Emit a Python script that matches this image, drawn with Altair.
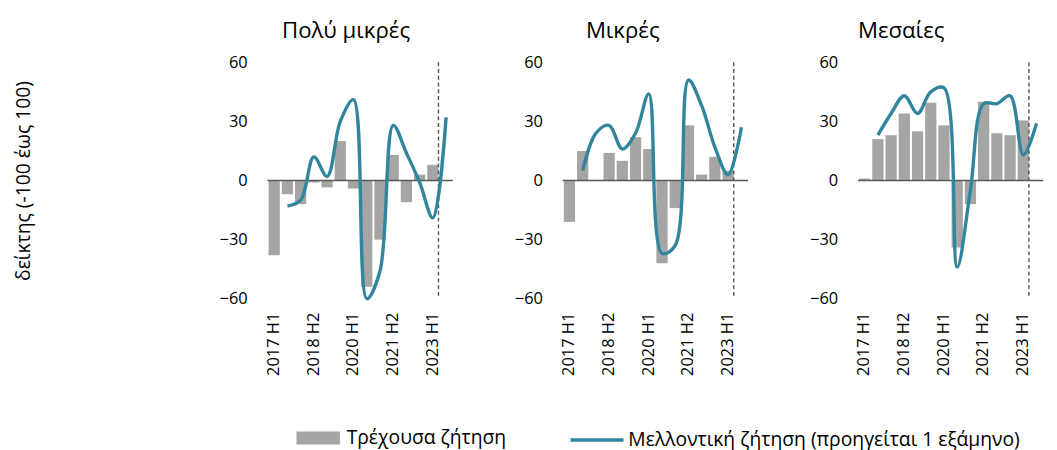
import altair as alt
import pandas as pd

periods = ["2017 H1", "2017 H2", "2018 H1", "2018 H2", "2019 H1", "2019 H2", "2020 H1",
           "2020 H2", "2021 H1", "2021 H2", "2022 H1", "2022 H2", "2023 H1", "2023 H2"]
label_periods = ["2017 H1", "2018 H2", "2020 H1", "2021 H2", "2023 H1"]

panel_names = ["Πολύ μικρές", "Μικρές", "Μεσαίες"]
title_dx = [15, 24, 0]

# Τρέχουσα ζήτηση (bars)
current_vm = [-38, -7, -12, -1, -3.5, 20, -4, -54, -30, 13, -11, 3, 8, None]
current_m = [-21, 15, 0, 14, 10, 22, 16, -42, -14, 28, 3, 12, 5, None]
current_md = [1, 21, 23, 34, 25, 39.5, 28, -34, -12, 40, 24, 23, 30.5, None]

# Μελλοντική ζήτηση (line)
future_vm = [None, -13, -10, 12, 2, 30, 41, -60, -46, 28, 14, -1, -19, 32]
future_m = [None, 5, 24, 28, 16, 24, 44, -37, -33, 51, 38, 17, 3, 27]
future_md = [None, 23, 34, 43, 34, 45, 47, -44, -5, 39, 39, 43, 13, 29]

bar_name = "Τρέχουσα ζήτηση"
line_name = "Μελλοντική ζήτηση (προηγείται 1 εξάμηνο)"
y_title = "δείκτης (-100 έως 100)"

FONT = "Open Sans"
BAR_COLOR = "#a5a5a5"
LINE_COLOR = "#31859c"
AXIS_COLOR = "#595959"

currents = [current_vm, current_m, current_md]
futures = [future_vm, future_m, future_md]


def panel(i):
    df = pd.DataFrame({
        "period": periods,
        "current": currents[i],
        "future": futures[i],
        "bar_series": bar_name,
        "line_series": line_name,
    })
    xscale = alt.Scale(domain=periods, paddingInner=0.15, paddingOuter=0.08)
    xaxis = alt.Axis(values=label_periods, labelAngle=270, labelAlign="right",
                     labelBaseline="middle", labelPadding=14, ticks=False,
                     domain=False, labelFontSize=17, labelColor="#000000",
                     labelFont=FONT)
    yaxis = alt.Axis(values=[-60, -30, 0, 30, 60], grid=False, domain=False,
                     ticks=False, labelPadding=21, labelFontSize=17,
                     labelColor="#000000", labelFont=FONT,
                     titlePadding=193)
    yscale = alt.Scale(domain=[-60, 60], nice=False)
    base = alt.Chart(df)
    bars = base.transform_filter("isValid(datum.current)").mark_bar().encode(
        x=alt.X("period:N", sort=periods, scale=xscale, axis=xaxis, title=None),
        y=alt.Y("current:Q", scale=yscale, axis=yaxis, title=y_title if i == 0 else None),
        fill=alt.Fill("bar_series:N",
                      scale=alt.Scale(domain=[bar_name], range=[BAR_COLOR]),
                      legend=alt.Legend(title=None, orient="none", legendX=30, legendY=367,
                                        symbolType="M-1,-0.3H1V0.3H-1Z", symbolSize=2025,
                                        symbolStrokeWidth=0, labelFontSize=20,
                                        labelFont=FONT, labelColor="#000000",
                                        labelOffset=7, labelLimit=600)),
    )
    zero = alt.Chart(pd.DataFrame({"z": [0]})).mark_rule(
        color=AXIS_COLOR, strokeWidth=1.5).encode(
        y=alt.Y("z:Q", scale=yscale))
    dashed = alt.Chart(pd.DataFrame({"p": ["2023 H1"]})).mark_rule(
        color=AXIS_COLOR, strokeWidth=1.5, strokeDash=[4, 3]).encode(
        x=alt.X("p:N", scale=xscale, bandPosition=1))
    line = base.transform_filter("isValid(datum.future)").mark_line(
        strokeWidth=3.5, interpolate="catmull-rom").encode(
        x=alt.X("period:N", sort=periods, scale=xscale),
        y=alt.Y("future:Q", scale=yscale),
        stroke=alt.Stroke("line_series:N",
                          scale=alt.Scale(domain=[line_name], range=[LINE_COLOR]),
                          legend=alt.Legend(title=None, orient="none", legendX=312, legendY=362,
                                            symbolType="stroke", symbolSize=3025,
                                            symbolStrokeWidth=3.5, labelFontSize=20,
                                            labelFont=FONT, labelColor="#000000",
                                            labelOffset=3, labelLimit=600)),
    )
    return alt.layer(bars, zero, dashed, line).properties(
        width=192, height=245,
        title=alt.TitleParams(panel_names[i], anchor="start", frame="group",
                              dx=title_dx[i], fontSize=23, font=FONT,
                              fontWeight="normal", color="#000000", offset=11),
    )


chart = alt.hconcat(panel(0), panel(1), panel(2), spacing=62).configure(
    font=FONT).configure_view(stroke=None).configure_axis(
    titleFontSize=20, titleFont=FONT, titleFontWeight="normal", titleColor="#000000")

chart.save("out.html", embed_options={"renderer": "svg", "actions": False})
